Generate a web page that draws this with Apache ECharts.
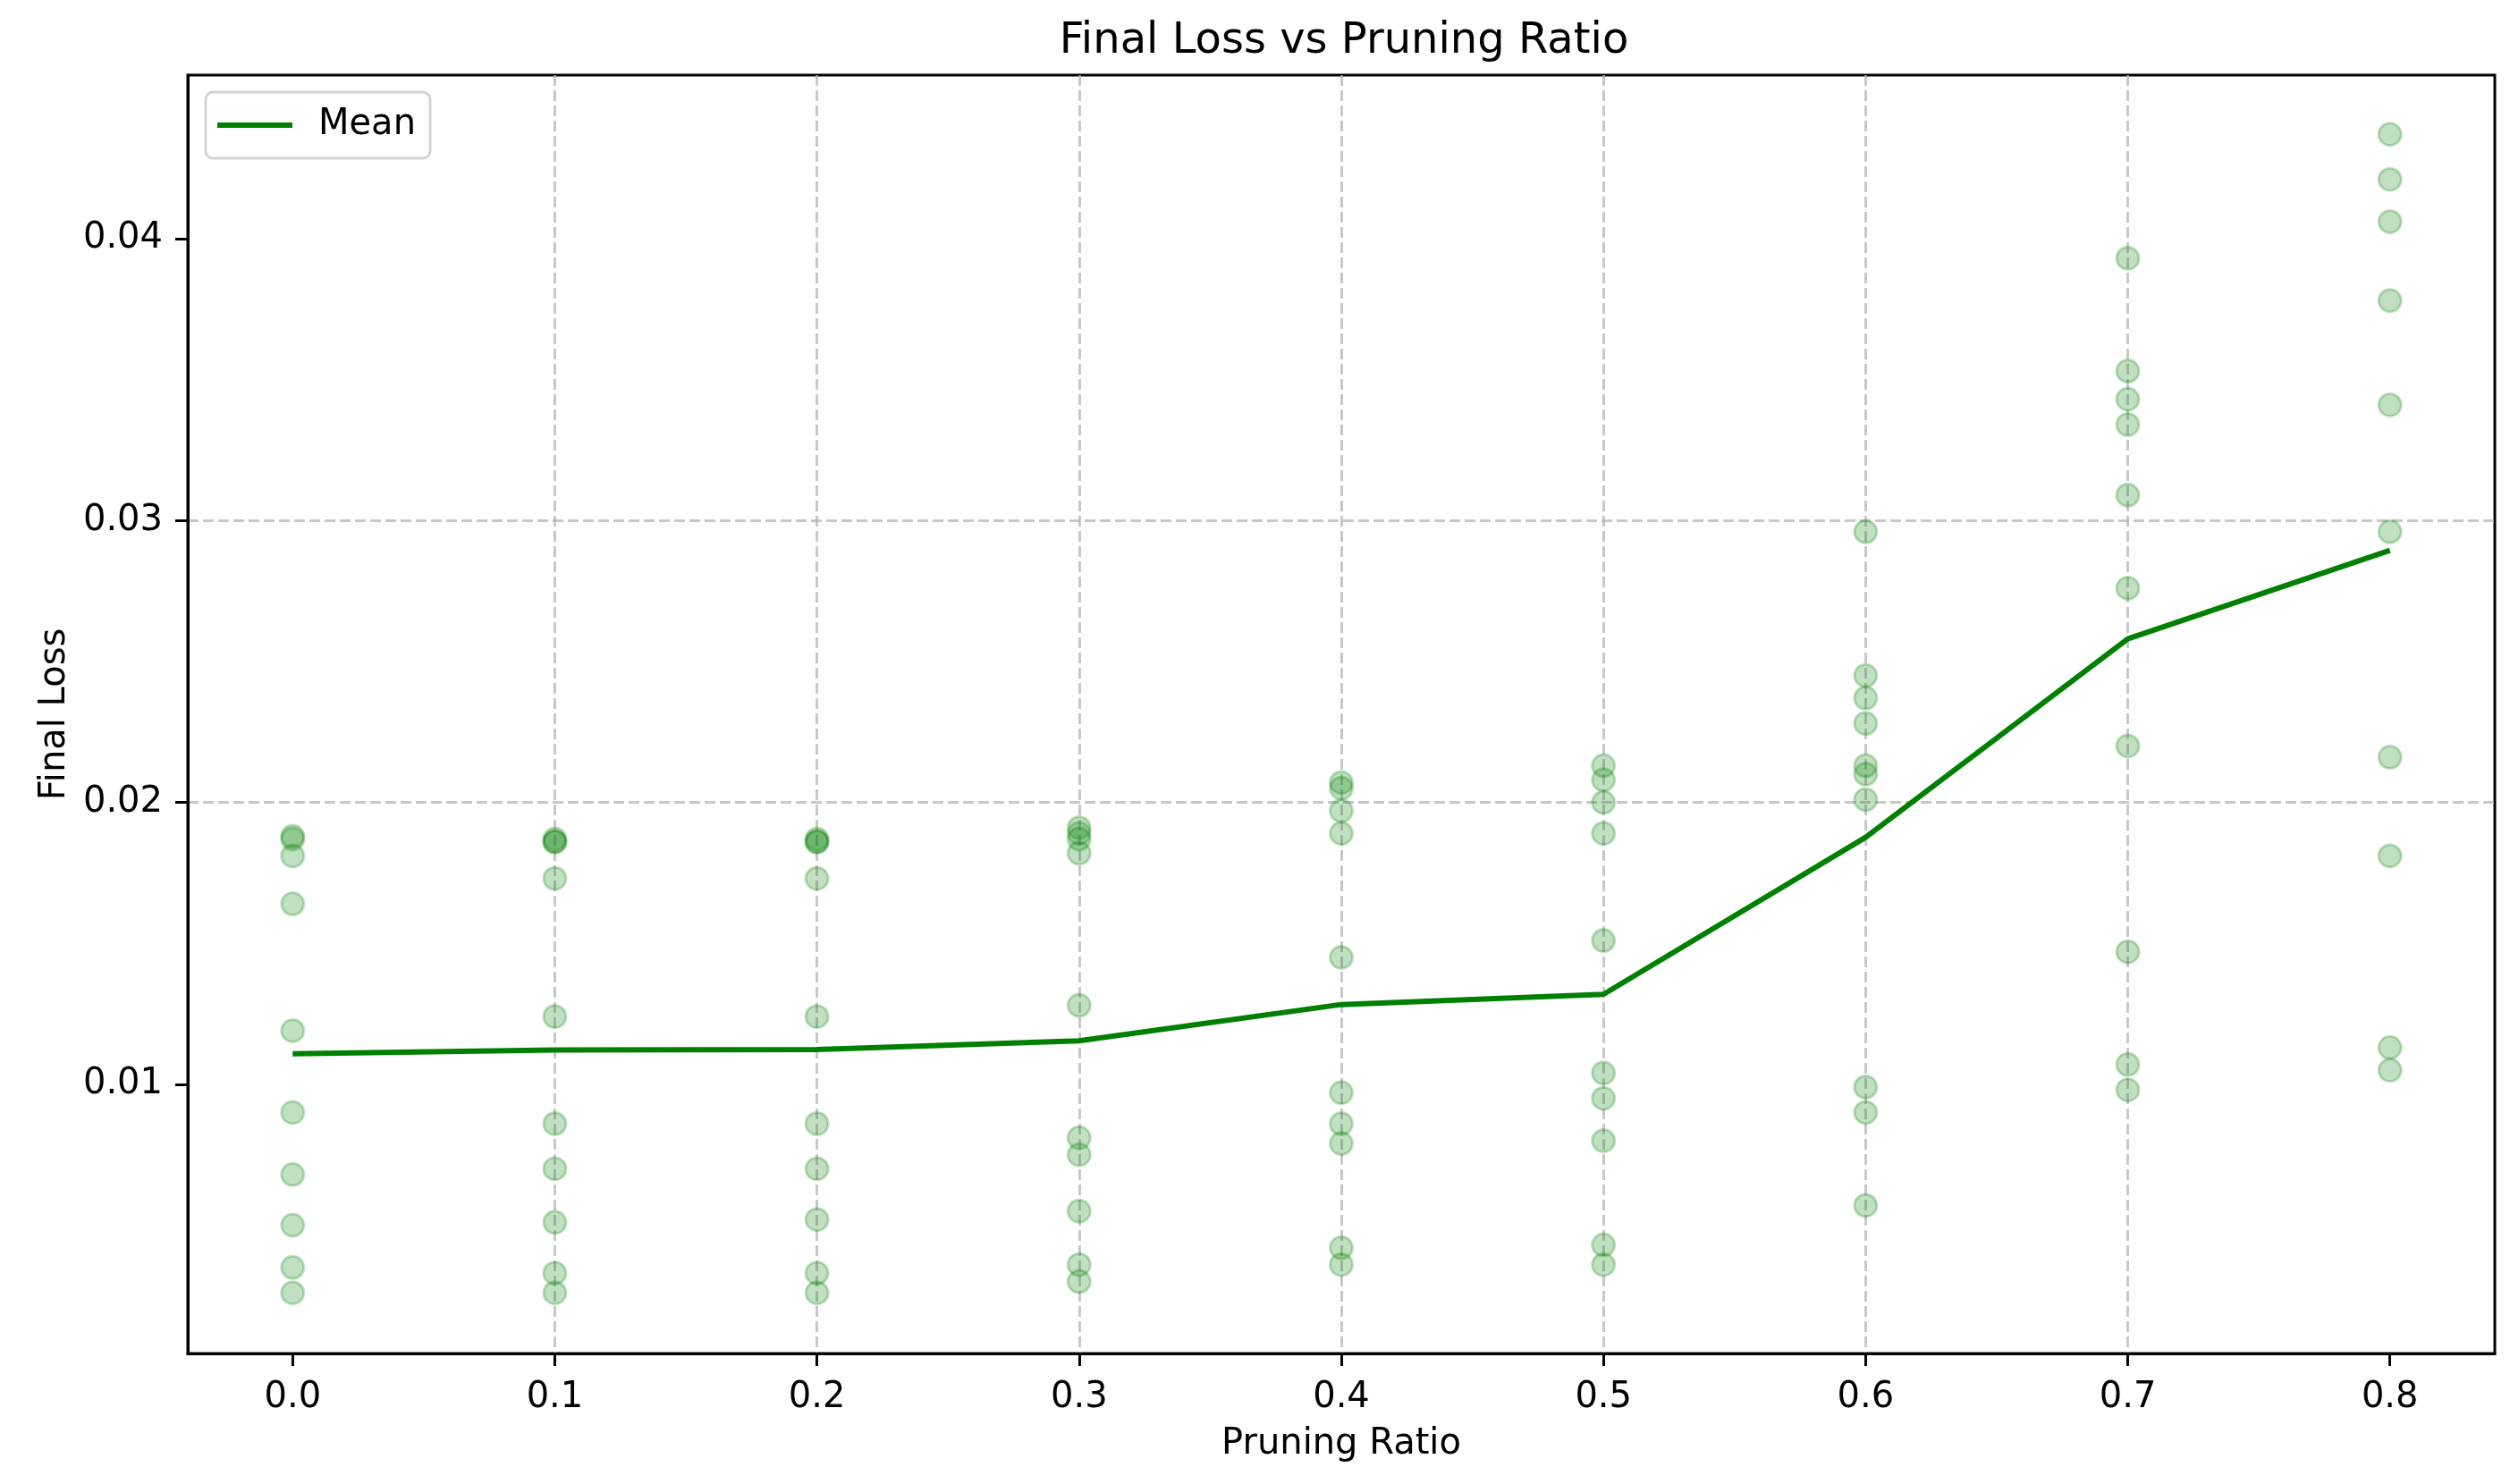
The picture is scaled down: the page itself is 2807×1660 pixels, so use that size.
<!DOCTYPE html>
<html>
<head>
<meta charset="utf-8">
<script src="https://cdn.jsdelivr.net/npm/echarts@6/dist/echarts.min.js"></script>
<style>
  html, body { margin: 0; padding: 0; background: #fff; }
  #chart { width: 2807px; height: 1660px; }
</style>
</head>
<body>
<div id="chart"></div>
<script>
// Pruning ratios (x categories as numbers)
const ratios = [0.0, 0.1, 0.2, 0.3, 0.4, 0.5, 0.6, 0.7, 0.8];

// Final loss values of the individual runs at each pruning ratio
const loss_r00 = [0.0188, 0.0187, 0.0181, 0.0164, 0.0119, 0.0090, 0.0068, 0.0050, 0.0035, 0.0026];
const loss_r01 = [0.0187, 0.0186, 0.0186, 0.0173, 0.0124, 0.0086, 0.0070, 0.0051, 0.0033, 0.0026];
const loss_r02 = [0.0187, 0.0186, 0.0186, 0.0173, 0.0124, 0.0086, 0.0070, 0.0052, 0.0033, 0.0026];
const loss_r03 = [0.0191, 0.0189, 0.0187, 0.0182, 0.0128, 0.0081, 0.0075, 0.0055, 0.0036, 0.0030];
const loss_r04 = [0.0207, 0.0205, 0.0197, 0.0189, 0.0145, 0.0097, 0.0086, 0.0079, 0.0042, 0.0036];
const loss_r05 = [0.0213, 0.0208, 0.0200, 0.0189, 0.0151, 0.0104, 0.0095, 0.0080, 0.0043, 0.0036];
const loss_r06 = [0.0296, 0.0245, 0.0237, 0.0228, 0.0213, 0.0210, 0.0201, 0.0099, 0.0090, 0.0057];
const loss_r07 = [0.0393, 0.0353, 0.0343, 0.0334, 0.0309, 0.0276, 0.0220, 0.0147, 0.0107, 0.0098];
const loss_r08 = [0.0437, 0.0421, 0.0406, 0.0378, 0.0341, 0.0296, 0.0216, 0.0181, 0.0113, 0.0105];

const lossByRatio = [loss_r00, loss_r01, loss_r02, loss_r03, loss_r04, loss_r05, loss_r06, loss_r07, loss_r08];

// Tick labels
const xTicks = [0.0, 0.1, 0.2, 0.3, 0.4, 0.5, 0.6, 0.7, 0.8];
const yTicks = [0.01, 0.02, 0.03, 0.04];

// Build scatter points and the mean line from the arrays
const scatterData = [];
lossByRatio.forEach((arr, i) => arr.forEach(v => scatterData.push([ratios[i], v])));
const meanData = lossByRatio.map((arr, i) => [ratios[i], arr.reduce((a, b) => a + b, 0) / arr.length]);

const FONT = 'DejaVu Sans';
const gridLine = { show: true, showMinLine: false, showMaxLine: false,
  lineStyle: { color: 'rgba(176,176,176,0.7)', width: 3, type: [12, 5] } };

const chart = echarts.init(document.getElementById('chart'), null, { renderer: 'canvas' });
chart.setOption({
  animation: false,
  backgroundColor: '#fff',
  textStyle: { fontFamily: FONT },
  title: {
    text: 'Final Loss vs Pruning Ratio',
    left: 1498, top: 18, textAlign: 'center',
    textStyle: { fontFamily: FONT, fontSize: 48, fontWeight: 'normal', color: '#000' }
  },
  legend: {
    left: 230, top: 103,
    data: [{ name: 'Mean', icon: 'rect' }],
    itemWidth: 84, itemHeight: 6,
    padding: [17, 16, 17, 13],
    borderColor: '#d5d5d5', borderWidth: 3, borderRadius: 8,
    backgroundColor: 'rgba(255,255,255,0.8)',
    textStyle: { fontFamily: FONT, fontSize: 40, color: '#000', padding: [0, 0, 0, 24] }
  },
  grid: {
    left: 210, right: 17, top: 84, bottom: 146,
    show: true, borderColor: '#000', borderWidth: 3, backgroundColor: 'transparent'
  },
  xAxis: {
    type: 'value', min: -0.04, max: 0.84, splitNumber: 9,
    name: 'Pruning Ratio', nameLocation: 'middle', nameGap: 82,
    nameTextStyle: { fontFamily: FONT, fontSize: 40, color: '#000' },
    axisLine: { show: true, onZero: false, lineStyle: { color: '#000', width: 3 } },
    axisTick: { show: true, length: 14, lineStyle: { color: '#000', width: 3 }, customValues: xTicks },
    axisLabel: { fontFamily: FONT, fontSize: 40, color: '#000', margin: 30,
      customValues: xTicks, formatter: v => v.toFixed(1) },
    splitLine: gridLine
  },
  yAxis: {
    type: 'value', min: 0.00045, max: 0.0458, splitNumber: 5,
    name: 'Final Loss', nameLocation: 'middle', nameGap: 128,
    nameTextStyle: { fontFamily: FONT, fontSize: 40, color: '#000' },
    axisLine: { show: true, onZero: false, lineStyle: { color: '#000', width: 3 } },
    axisTick: { show: true, length: 14, lineStyle: { color: '#000', width: 3 }, customValues: yTicks },
    axisLabel: { fontFamily: FONT, fontSize: 40, color: '#000', margin: 28,
      customValues: yTicks, formatter: v => v.toFixed(2) },
    splitLine: gridLine
  },
  series: [
    {
      name: 'Runs', type: 'scatter', data: scatterData, symbol: 'circle', symbolSize: 25,
      itemStyle: { color: 'rgba(0,128,0,0.3)', borderColor: 'rgba(0,128,0,0.3)', borderWidth: 3 },
      z: 3
    },
    {
      name: 'Mean', type: 'line', data: meanData, symbol: 'none',
      lineStyle: { color: '#008000', width: 6 }, itemStyle: { color: '#008000' }, z: 4
    }
  ]
});
</script>
</body>
</html>
